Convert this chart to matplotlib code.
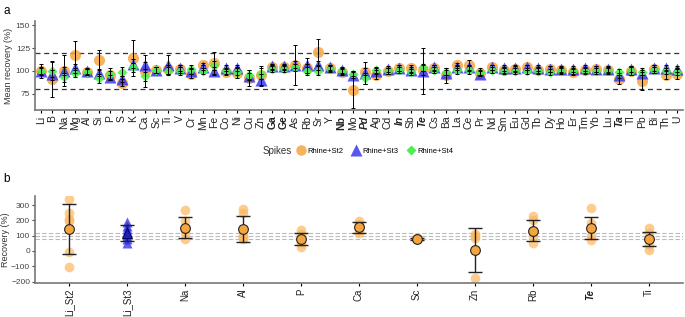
import numpy as np
import matplotlib.pyplot as plt

plt.rcParams['font.family'] = ['Liberation Sans', 'DejaVu Sans']

# ---- panel a data: mean recovery (%) per element and spike
elements = ['Li', 'B', 'Na', 'Mg', 'Al', 'Si', 'P', 'S', 'K', 'Ca', 'Sc', 'Ti', 'V', 'Cr',
            'Mn', 'Fe', 'Co', 'Ni', 'Cu', 'Zn', 'Ga', 'Ge', 'As', 'Rb', 'Sr', 'Y', 'Nb',
            'Mo', 'Pd', 'Ag', 'Cd', 'In', 'Sb', 'Te', 'Cs', 'Ba', 'La', 'Ce', 'Pr', 'Nd',
            'Sm', 'Eu', 'Gd', 'Tb', 'Dy', 'Ho', 'Er', 'Tm', 'Yb', 'Lu', 'Ta', 'Tl', 'Pb',
            'Bi', 'Th', 'U']
bold_el = ['Ga', 'Ge', 'Nb']
bold_italic_el = ['Pd', 'In', 'Te', 'Ta']

st2 = [100, 91, 100, 117, 99, 112, 95, 87, 114, 100, 101, 102, 102, 97,
       106, 109, 99, 98, 92, 95, 104, 104, 107, 103, 121, 103, 99,
       79, 99, 96, 100, 103, 103, 101, 103, 95, 106, 106, 98, 104,
       101, 102, 104, 101, 102, 101, 99, 101, 102, 101, 91, 100, 89,
       102, 96, 97]
st2_sd = [4, 20, 17, 16, 3, 11, 5, 4, 20, 18, 3, 5, 4, 5,
          3, 12, 3, 6, 9, 10, 3, 3, 22, 5, 14, 3, 3,
          20, 4, 5, 3, 3, 4, 5, 3, 8, 3, 6, 3, 3,
          3, 3, 3, 3, 3, 3, 3, 3, 3, 3, 5, 4, 10,
          4, 5, 6]
st3 = [100, 97, 100, 103, 100, 98, 93, 91, 108, 106, 101, 107, 103, 100,
       104, 100, 103, 103, 94, 90, 105, 105, 107, 106, 106, 104, 101,
       96, 98, 100, 102, 103, 101, 100, 104, 98, 104, 104, 97, 104,
       103, 103, 104, 103, 102, 102, 102, 103, 102, 102, 95, 102, 98,
       103, 103, 102]
st3_sd = [3, 4, 4, 5, 3, 4, 3, 3, 5, 4, 3, 10, 3, 3,
          3, 4, 3, 3, 4, 7, 3, 3, 4, 8, 5, 3, 3,
          4, 12, 3, 3, 3, 3, 25, 3, 3, 3, 3, 3, 3,
          3, 3, 3, 3, 3, 3, 3, 3, 3, 3, 3, 3, 3,
          3, 3, 3]
st4 = [100, 100, 93, 98, 99, 92, 97, 99, 104, 94, 101, 100, 100, 102,
       100, 106, 100, 99, 96, 97, 102, 102, 104, 100, 100, 102, 100,
       97, 92, 101, 100, 101, 99, 104, 101, 99, 101, 101, 99, 101,
       100, 100, 100, 100, 99, 100, 100, 100, 100, 100, 99, 100, 99,
       101, 100, 99]
st4_sd = [8, 10, 5, 5, 3, 5, 6, 5, 5, 5, 3, 4, 4, 5,
          3, 5, 3, 4, 5, 6, 3, 3, 4, 4, 5, 3, 3,
          3, 6, 3, 3, 3, 3, 4, 3, 4, 4, 4, 4, 3,
          3, 3, 3, 3, 3, 3, 3, 3, 3, 3, 3, 5, 4,
          3, 3, 3]

# ---- panel b data: individual recoveries (%)
b_labels = ['Li_St2', 'Li_St3', 'Na', 'Al', 'P', 'Ca', 'Sc', 'Zn', 'Rb', 'Te', 'Ti']
b_points = [
    [337, 247, 210, 193, -9, -105],
    [190, 165, 145, 125, 110, 95, 75, 55],
    [268, 195, 150, 120, 78],
    [273, 250, 100, 95, 85, 80],
    [140, 110, 80, 50, 23],
    [194, 175, 160, 140, 118],
    [88, 82, 75, 80],
    [108, 95, 85, -180],
    [226, 200, 130, 100, 49],
    [280, 180, 150, 100, 72],
    [151, 118, 85, 40, 6],
]
b_mean = [142, 117, 152, 145, 78, 155, 80, 5, 133, 150, 80]
b_sd = [165, 55, 67, 84, 40, 37, 8, 143, 68, 75, 47]

c_st2 = '#F5A540'
c_st3 = '#3A3AF2'
c_st4 = '#4CF04C'

fig = plt.figure(figsize=(6.85, 3.17), dpi=100)

# ---------------- panel a
ax1 = fig.add_axes([0.051, 0.653, 0.946, 0.281])
x = np.arange(len(elements))
ax1.axhline(120, color='#333333', ls=(0, (4, 3)), lw=0.9, zorder=1)
ax1.axhline(80, color='#333333', ls=(0, (4, 3)), lw=0.9, zorder=1)
ax1.plot(x, st2, 'o', color=c_st2, ms=8, alpha=0.85, mec='none', zorder=2)
ax1.plot(x, st3, '^', color=c_st3, ms=9, alpha=0.85, mec='none', zorder=3)
ax1.plot(x, st4, 'D', color=c_st4, ms=5.2, alpha=0.9, mec='none', zorder=4)
for vals, sd in [(st2, st2_sd), (st3, st3_sd), (st4, st4_sd)]:
    ax1.errorbar(x, vals, yerr=sd, fmt='none', ecolor='black', elinewidth=0.7,
                 capsize=1.5, capthick=0.7, zorder=5)
ax1.set_xlim(-0.5, len(elements) - 0.5)
ax1.set_ylim(57, 155)
ax1.set_yticks([75, 100, 125, 150])
ax1.set_xticks(x)
ax1.set_xticklabels(elements, rotation=90, fontsize=7.5)
for lab in ax1.get_xticklabels():
    if lab.get_text() in bold_el:
        lab.set_fontweight('bold')
    if lab.get_text() in bold_italic_el:
        lab.set_fontweight('bold')
        lab.set_fontstyle('italic')
ax1.tick_params(axis='y', labelsize=6, colors='#444444', length=2, pad=1.5)
ax1.tick_params(axis='x', length=2, pad=2, labelcolor='#222222')
ax1.set_ylabel('Mean recovery (%)', fontsize=6.5, color='#333333', labelpad=2)
for s in ['top', 'right']:
    ax1.spines[s].set_visible(False)
for s in ['left', 'bottom']:
    ax1.spines[s].set_color('#777777')
    ax1.spines[s].set_linewidth(1.2)

# legend
fig.text(0.383, 0.524, 'Spikes', fontsize=7, va='center', color='#333333')
h2, = ax1.plot([], [], 'o', color=c_st2, ms=7.5, alpha=0.85, mec='none')
h3, = ax1.plot([], [], '^', color=c_st3, ms=8.5, alpha=0.85, mec='none')
h4, = ax1.plot([], [], 'D', color=c_st4, ms=5, mec='none')
fig.legend([h2, h3, h4], ['Rhine+St2', 'Rhine+St3', 'Rhine+St4'], ncol=3,
           loc='center left', bbox_to_anchor=(0.422, 0.524), frameon=False,
           fontsize=5.5, handletextpad=0.3, columnspacing=1.0, handlelength=1.2)

fig.text(0.005, 0.985, 'a', fontsize=8.5, va='top')
fig.text(0.005, 0.455, 'b', fontsize=8.5, va='top')

# ---------------- panel b
ax2 = fig.add_axes([0.051, 0.107, 0.946, 0.275])
for yv in [80, 100, 120]:
    ax2.axhline(yv, color='#BBBBBB', ls=(0, (4, 2)), lw=0.8, zorder=1)
for i, pts in enumerate(b_points):
    if b_labels[i] == 'Li_St3':
        ax2.plot([i] * len(pts), pts, '^', color='#2A2AE8', ms=7.5, alpha=0.75,
                 mec='none', zorder=2)
    else:
        ax2.plot([i] * len(pts), pts, 'o', color='#FBB860', ms=7, alpha=0.7,
                 mec='none', zorder=2)
xb = np.arange(len(b_labels))
ax2.errorbar(xb, b_mean, yerr=b_sd, fmt='none', ecolor='#222222', elinewidth=1.0,
             capsize=5, capthick=1.0, zorder=3)
for i in range(len(b_labels)):
    if b_labels[i] == 'Li_St3':
        ax2.plot(i, b_mean[i], '^', color='#1C1CD0', ms=6.5, mec='#000033',
                 mew=0.6, zorder=4)
    else:
        ax2.plot(i, b_mean[i], 'o', color='#F5A540', ms=7, mec='#222222',
                 mew=0.8, zorder=4)
ax2.set_xlim(-0.59, len(b_labels) - 0.41)
ax2.set_ylim(-210, 360)
ax2.set_yticks([-200, -100, 0, 100, 200, 300])
ax2.set_xticks(xb)
ax2.set_xticklabels(b_labels, rotation=90, fontsize=7)
for lab in ax2.get_xticklabels():
    if lab.get_text() == 'Te':
        lab.set_fontweight('bold')
        lab.set_fontstyle('italic')
ax2.tick_params(axis='y', labelsize=6, colors='#444444', length=2, pad=1.5)
ax2.tick_params(axis='x', length=2, pad=2, labelcolor='#222222')
ax2.set_ylabel('Recovery (%)', fontsize=6.5, color='#333333', labelpad=1)
for s in ['top', 'right']:
    ax2.spines[s].set_visible(False)
for s in ['left', 'bottom']:
    ax2.spines[s].set_color('#777777')
    ax2.spines[s].set_linewidth(1.2)

fig.savefig('out.png', dpi=100)
